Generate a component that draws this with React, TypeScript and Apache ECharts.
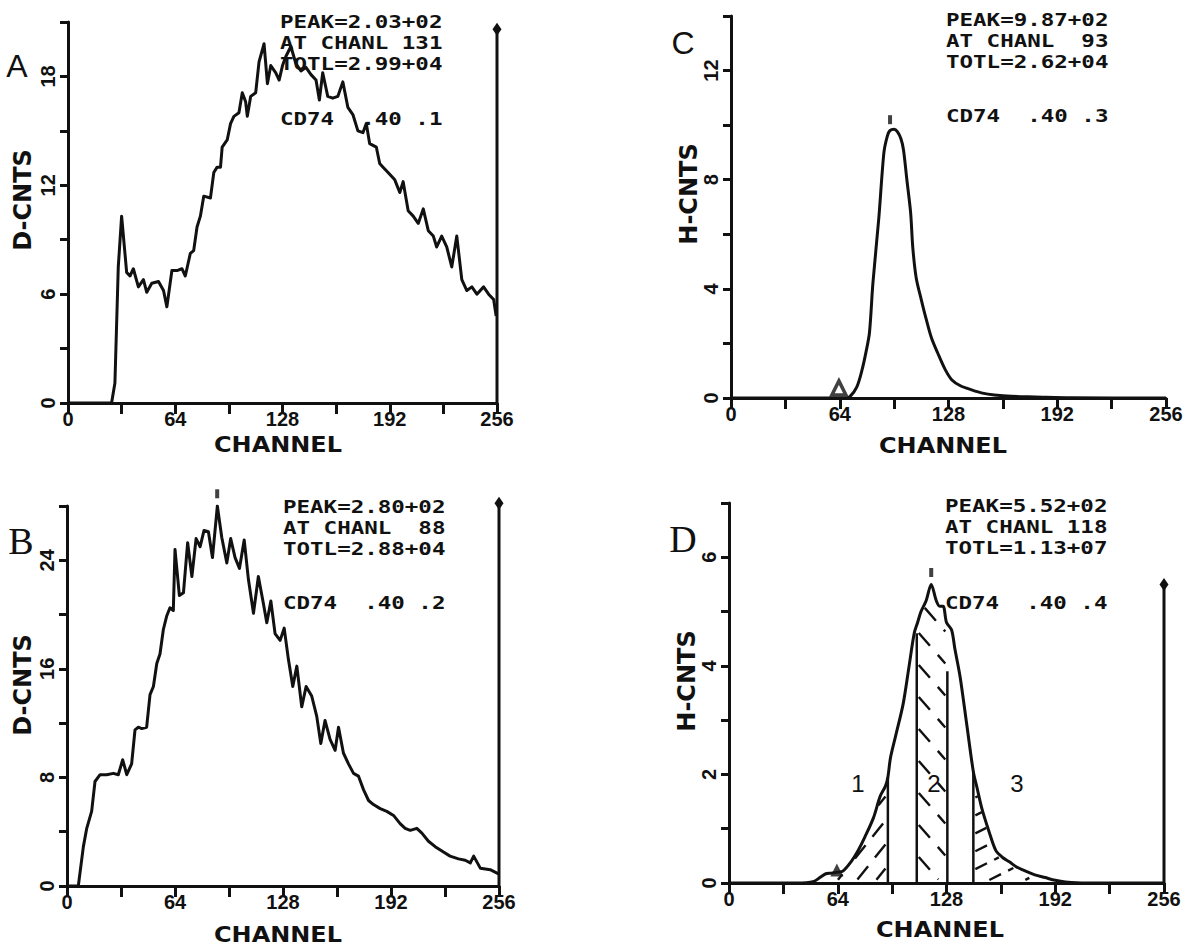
import React, { useEffect, useRef } from "react";
import * as echarts from "echarts";

// ---------- data (channel, counts/10) ----------
const countsA: [number, number][] = [
  [0, 0], [26, 0], [28, 1.1], [30, 7.5], [32, 10.3], [35, 7.2], [37, 7.0], [39, 7.4], [42, 6.4], [45, 6.8],
  [47, 6.1], [50, 6.6], [54, 6.7], [57, 6.2], [59, 5.3], [62, 7.3], [65, 7.3], [68, 7.4], [70, 7.0], [73, 8.25],
  [75, 8.4], [77, 9.7], [79, 10.3], [81, 11.4], [85, 11.3], [87, 12.7], [89, 13.0], [91, 13.0], [92, 14.1], [95, 14.5],
  [97, 15.4], [99, 15.8], [102, 16.0], [104, 17.1], [106, 16.6], [107, 15.8], [109, 16.9], [112, 17.1], [114, 18.8], [117, 19.8],
  [119, 17.6], [121, 18.6], [124, 18.2], [126, 17.8], [128, 18.6], [130, 19.1], [133, 19.65], [136, 18.7], [139, 18.3], [142, 18.5],
  [145, 18.1], [148, 17.8], [150, 16.7], [152, 18.2], [155, 16.9], [158, 16.8], [161, 16.9], [164, 17.7], [167, 16.3], [170, 15.9],
  [173, 15.0], [176, 14.9], [178, 15.4], [180, 14.3], [184, 14.1], [186, 13.2], [188, 13.0], [191, 12.7], [195, 12.3], [198, 11.6],
  [200, 12.2], [203, 10.6], [206, 10.3], [209, 9.9], [212, 10.7], [215, 9.5], [218, 9.2], [220, 8.6], [223, 9.2], [226, 8.6],
  [229, 7.5], [232, 9.2], [235, 6.8], [238, 6.2], [241, 6.4], [244, 6.0], [248, 6.4], [251, 6.0], [254, 5.7], [255.5, 4.8],
];

const countsB: [number, number][] = [
  [0, 0], [6.7, 0], [9.7, 2.9], [11.7, 4.25], [14.6, 5.5], [16.6, 7.7], [19.6, 8.2], [23.5, 8.2], [27.5, 8.3], [30.4, 8.2],
  [33, 9.3], [35.4, 8.2], [38.3, 9.0], [40.3, 11.5], [42.3, 11.7], [44.3, 11.6], [47.2, 11.7], [49.2, 14.1], [51.2, 14.7], [53.2, 16.4],
  [55.1, 17.1], [57.1, 18.9], [59.1, 19.9], [61, 20.5], [63, 20.3], [64, 24.8], [66.6, 21.4], [69, 21.6], [71.5, 25.3], [74, 22.8],
  [76.5, 25.6], [78.9, 25.0], [81.2, 26.2], [83.8, 26.1], [86.2, 24.2], [89.1, 28.0], [91.7, 25.7], [94.7, 23.8], [97, 25.6], [99.6, 24.2],
  [102.2, 23.4], [105, 25.5], [107.5, 22.6], [110.5, 20.1], [113.4, 22.8], [116.4, 20.8], [118.4, 19.4], [120.8, 21.0], [123.3, 18.6], [126.3, 18.1],
  [128.7, 19.0], [131.2, 16.7], [133.8, 14.7], [136.2, 16.2], [139.1, 13.2], [141.7, 14.7], [145, 14.0], [148, 12.5], [150.4, 10.5], [152.9, 12.2],
  [155.9, 10.8], [158.9, 10.0], [160.9, 11.7], [163.8, 9.8], [166.8, 9.0], [169.8, 8.3], [172.7, 8.1], [175.7, 7.1], [178.7, 6.3], [181.6, 6.0],
  [185.6, 5.7], [189.5, 5.5], [193.5, 5.2], [197.4, 4.6], [200.4, 4.25], [203.4, 4.1], [207.3, 4.25], [210.3, 3.9], [214.2, 3.3], [218.2, 2.9],
  [223.1, 2.5], [227, 2.2], [232, 2.0], [236, 1.9], [239, 1.7], [241, 2.2], [245, 1.3], [250.8, 1.2], [255.7, 0.9],
];

const countsC: [number, number][] = [
  [0, 0], [68, 0], [70, 0.05], [74, 0.4], [77, 1.0], [79.5, 1.7], [81.5, 2.4], [83.5, 4.2], [87, 6.6], [90, 9.0],
  [92, 9.6], [93.5, 9.8], [96, 9.85], [98, 9.75], [100, 9.5], [101.5, 9.1], [103.5, 8.0], [105.7, 6.8], [107, 5.5], [109, 4.4],
  [112, 3.6], [115, 2.86], [118, 2.2], [121.7, 1.64], [126, 1.05], [130, 0.66], [135, 0.45], [141.6, 0.3], [148, 0.18], [155, 0.11],
  [165, 0.06], [179, 0.04], [200, 0.01], [256, 0],
];

const countsD: [number, number][] = [
  [0, 0], [40, 0], [50, 0.03], [53.5, 0.1], [57, 0.17], [60, 0.18], [64, 0.2], [67, 0.22], [72, 0.4], [76, 0.6],
  [80, 0.85], [85, 1.2], [89, 1.6], [92, 1.78], [93.5, 1.95], [95, 2.3], [98, 2.7], [102.5, 3.3], [106, 4.0], [109, 4.6],
  [111, 4.8], [113, 5.0], [116, 5.2], [119, 5.5], [122, 5.2], [124, 5.1], [126, 5.1], [128, 4.8], [131, 4.66], [133, 4.3],
  [136, 3.8], [140, 2.9], [143.8, 2.05], [146, 1.75], [149, 1.35], [153, 0.95], [157, 0.6], [161, 0.47], [165, 0.39], [169, 0.3],
  [173, 0.24], [180, 0.15], [186, 0.1], [192, 0.05], [198, 0.02], [210, 0], [256, 0],
];

// axis scales
const xLabelValues = [0, 64, 128, 192, 256];
const yMax = [21, 28, 14, 7];
const yTickStep = [3, 4, 2, 1];
const yLabelValues = [[0, 6, 12, 18], [0, 8, 16, 24], [0, 4, 8, 12], [0, 2, 4, 6]];

// markers
const cursorTops = [20.6, 28.2, null, 5.5]; // right-hand cursor line at channel 256
const peakMarks: ([number, number] | null)[] = [null, [89, 28.9], [93.6, 10.2], [119, 5.72]];
const triangleMarks: ([number, number] | null)[] = [null, null, [63.5, 0.37], [63.5, 0.24]];

// gates in panel D
const gateChannels = [93.5, 110.5, 128.5, 143.8];
const gateTops = [1.95, 4.6, 3.9, 2.05];
const hatchFrom = [60, 110.5, 143.8];
const hatchTo = [93.5, 128.5, 178];
const regionLabels = ["1", "2", "3"];

// texts
const panelLetters = ["A", "B", "C", "D"];
const yTitles = ["D-CNTS", "D-CNTS", "H-CNTS", "H-CNTS"];
const xTitle = "CHANNEL";
const infoLines = [
  ["PEAK=2.03+02", "AT CHANL 131", "TOTL=2.99+04", "CD74  .40 .1"],
  ["PEAK=2.80+02", "AT CHANL  88", "TOTL=2.88+04", "CD74  .40 .2"],
  ["PEAK=9.87+02", "AT CHANL  93", "TOTL=2.62+04", "CD74  .40 .3"],
  ["PEAK=5.52+02", "AT CHANL 118", "TOTL=1.13+07", "CD74  .40 .4"],
];

// ---------- layout ----------
const grids = [
  { left: 68, top: 22, width: 429, height: 381 },
  { left: 67, top: 506, width: 432, height: 380 },
  { left: 731, top: 16, width: 435, height: 382 },
  { left: 729, top: 503, width: 435, height: 380 },
];
const letterPos = [[17, 66, "sans"], [21, 541, "serif"], [683, 43, "sans"], [683, 539, "serif"]] as const;
const yTitlePos = [[23, 200], [23, 685], [689, 194], [687, 681]];
const xTitlePos = [[278, 443], [278, 933], [943, 444], [940, 928]];
// x start, centre y of first line, centre y of 4th line
const infoPos = [[280, 22, 119], [283, 507, 603], [946, 20, 116], [945, 506, 603]];
const regionLabelPos = [[858, 783], [934, 783], [1017, 783]];
const hatchStyle = [
  { dx: 1, dy: -1.25, spacing: 15, dash: [17, 11] },
  { dx: 1, dy: 1.15, spacing: 21, dash: [17, 12] },
  { dx: 1, dy: -0.5, spacing: 16, dash: [13, 8] },
];

const MONO = "'DejaVu Sans Mono', monospace";
const TICKFONT = "'Liberation Sans', Arial, sans-serif";
const TITLEFONT = "'DejaVu Sans', sans-serif";
const INFO_SIZE = 18;
const INFO_SCALEX = 1.25;
const INFO_LH = 21;

function interp(pts: [number, number][], x: number) {
  for (let i = 1; i < pts.length; i++) {
    if (x <= pts[i][0]) {
      const [x0, y0] = pts[i - 1];
      const [x1, y1] = pts[i];
      return y0 + ((y1 - y0) * (x - x0)) / (x1 - x0 || 1);
    }
  }
  return pts[pts.length - 1][1];
}

function hatchSegments(api: any, i: number) {
  const from = hatchFrom[i];
  const to = hatchTo[i];
  const st = hatchStyle[i];
  const x1 = api.coord([from, 0])[0];
  const p2 = api.coord([to, 0]);
  const x2 = p2[0];
  const yb = p2[1];
  const curveY = (px: number) => {
    const ch = from + ((px - x1) / (x2 - x1)) * (to - from);
    return api.coord([ch, interp(countsD, ch)])[1];
  };
  let ymin = Infinity;
  for (let px = x1; px <= x2; px++) ymin = Math.min(ymin, curveY(px));
  const len = Math.hypot(st.dx, st.dy);
  const ux = st.dx / len;
  const uy = st.dy / len;
  const nx = -uy;
  const ny = ux;
  const cs = [[x1, ymin], [x2, ymin], [x1, yb], [x2, yb]].map(([x, y]) => nx * x + ny * y);
  const smin = Math.min(...cs);
  const smax = Math.max(...cs);
  const segs: number[][] = [];
  for (let s = smin + st.spacing / 2; s < smax; s += st.spacing) {
    let start: number[] | null = null;
    let last: number[] | null = null;
    for (let px = x1 + 2; px <= x2 - 2; px += 0.5) {
      const py = (s - nx * px) / ny;
      const inside = py < yb - 3 && py > curveY(px) + 3;
      if (inside) {
        if (!start) start = [px, py];
        last = [px, py];
      } else if (start && last) {
        segs.push([start[0], start[1], last[0], last[1]]);
        start = null;
      }
    }
    if (start && last) segs.push([start[0], start[1], last[0], last[1]]);
  }
  return segs;
}

export default function App() {
  const ref = useRef<HTMLDivElement>(null);
  useEffect(() => {
    if (!ref.current) return;
    const chart = echarts.init(ref.current, undefined, { renderer: "svg" });
    const black = "#111";
    const allCounts = [countsA, countsB, countsC, countsD];

    const xAxis = grids.map((_, i) => ({
      type: "value",
      gridIndex: i,
      min: 0,
      max: 256,
      interval: 32,
      axisLine: { show: true, onZero: false, lineStyle: { color: black, width: 3 } },
      axisTick: { show: true, length: 11, lineStyle: { color: black, width: 3 } },
      axisLabel: {
        color: black,
        fontFamily: TICKFONT,
        fontWeight: "bold",
        fontSize: 20,
        lineHeight: 20,
        margin: 6,
        formatter: (v: number) => (xLabelValues.includes(v) ? String(v) : ""),
      },
      splitLine: { show: false },
    }));

    const yAxis = grids.map((_, i) => ({
      type: "value",
      gridIndex: i,
      min: 0,
      max: yMax[i],
      interval: yTickStep[i],
      axisLine: { show: true, onZero: false, lineStyle: { color: black, width: 3 } },
      axisTick: { show: true, length: 8, lineStyle: { color: black, width: 3 } },
      axisLabel: {
        color: black,
        fontFamily: TICKFONT,
        fontWeight: "bold",
        fontSize: 20,
        rotate: 90,
        margin: 10,
        formatter: (v: number) => (yLabelValues[i].includes(v) ? String(v) : ""),
      },
      splitLine: { show: false },
    }));

    const series: any[] = [];
    allCounts.forEach((pts, i) => {
      series.push({
        type: "line",
        xAxisIndex: i,
        yAxisIndex: i,
        data: pts,
        showSymbol: false,
        smooth: i >= 2 ? 0.3 : false,
        lineStyle: { color: black, width: 3, join: "round" },
        z: 3,
      });
      const top = cursorTops[i];
      if (top !== null) {
        series.push({
          type: "line",
          xAxisIndex: i,
          yAxisIndex: i,
          clip: false,
          data: [
            { value: [256, 0], symbol: "none" },
            { value: [256, top], symbol: "diamond", symbolSize: [9, 13] },
          ],
          lineStyle: { color: black, width: 3 },
          itemStyle: { color: black },
          z: 3,
        });
      }
      const pk = peakMarks[i];
      if (pk) {
        series.push({
          type: "scatter",
          xAxisIndex: i,
          yAxisIndex: i,
          clip: false,
          data: [pk],
          symbol: "rect",
          symbolSize: [4, 9],
          itemStyle: { color: black },
          z: 4,
        });
      }
      const tr = triangleMarks[i];
      if (tr) {
        series.push({
          type: "scatter",
          xAxisIndex: i,
          yAxisIndex: i,
          clip: false,
          data: [tr],
          symbol: "triangle",
          symbolSize: i === 2 ? 14 : 13,
          itemStyle: i === 2 ? { color: "#fff", borderColor: black, borderWidth: 3.5 } : { color: black },
          z: 4,
        });
      }
    });

    // gates in D
    gateChannels.forEach((g, k) => {
      series.push({
        type: "line",
        xAxisIndex: 3,
        yAxisIndex: 3,
        data: [[g, 0], [g, gateTops[k]]],
        showSymbol: false,
        lineStyle: { color: black, width: 2.5 },
        z: 3,
      });
    });

    // hatching in D
    series.push({
      type: "custom",
      xAxisIndex: 3,
      yAxisIndex: 3,
      data: hatchFrom.map((f) => [f, 0]),
      encode: { x: 0, y: 1 },
      silent: true,
      renderItem: (params: any, api: any) => {
        const i = params.dataIndex;
        const segs = hatchSegments(api, i);
        return {
          type: "group",
          children: segs.map((s) => ({
            type: "line",
            shape: { x1: s[0], y1: s[1], x2: s[2], y2: s[3] },
            style: { stroke: black, lineWidth: 2.4, lineDash: hatchStyle[i].dash },
          })),
        };
      },
      z: 2,
    });

    const graphic: any[] = [];
    letterPos.forEach(([x, y, kind], i) => {
      graphic.push({
        type: "text",
        x,
        y,
        style: {
          text: panelLetters[i],
          font: kind === "serif" ? "38px 'Liberation Serif', serif" : "32px 'Liberation Sans', sans-serif",
          fill: black,
          textAlign: "center",
          textVerticalAlign: "middle",
        },
      });
    });
    yTitlePos.forEach(([x, y], i) => {
      graphic.push({
        type: "text",
        x,
        y,
        rotation: Math.PI / 2,
        style: {
          text: yTitles[i],
          font: `bold 24px ${TITLEFONT}`,
          fill: black,
          textAlign: "center",
          textVerticalAlign: "middle",
        },
      });
    });
    xTitlePos.forEach(([x, y]) => {
      graphic.push({
        type: "text",
        x,
        y: y + 1,
        scaleX: 1.09,
        style: {
          text: xTitle,
          font: `bold 22px ${TITLEFONT}`,
          fill: black,
          textAlign: "center",
          textVerticalAlign: "middle",
        },
      });
    });
    infoPos.forEach(([x, y1, y4], i) => {
      infoLines[i].slice(0, 3).forEach((line, k) => {
        graphic.push({
          type: "text",
          x,
          y: y1 + k * INFO_LH,
          scaleX: INFO_SCALEX,
          z: 10,
          style: {
            text: line,
            font: `bold ${INFO_SIZE}px ${MONO}`,
            fill: black,
            textAlign: "left",
            textVerticalAlign: "middle",
          },
        });
      });
      graphic.push({
        type: "text",
        x,
        y: y4,
        scaleX: INFO_SCALEX,
        z: 10,
        style: {
          text: infoLines[i][3],
          font: `bold ${INFO_SIZE}px ${MONO}`,
          fill: black,
          textAlign: "left",
          textVerticalAlign: "middle",
        },
      });
    });
    regionLabelPos.forEach(([x, y], k) => {
      graphic.push({
        type: "text",
        x,
        y,
        style: {
          text: regionLabels[k],
          font: "24px 'Liberation Sans', sans-serif",
          fill: black,
          textAlign: "center",
          textVerticalAlign: "middle",
        },
      });
    });

    chart.setOption({
      animation: false,
      backgroundColor: "#fff",
      grid: grids.map((g) => ({ ...g, containLabel: false })),
      xAxis,
      yAxis,
      series,
      graphic,
    });
    return () => chart.dispose();
  }, []);

  return (
    <div
      ref={ref}
      style={{ position: "fixed", left: 0, top: 0, width: 1191, height: 946, background: "#fff" }}
    />
  );
}
